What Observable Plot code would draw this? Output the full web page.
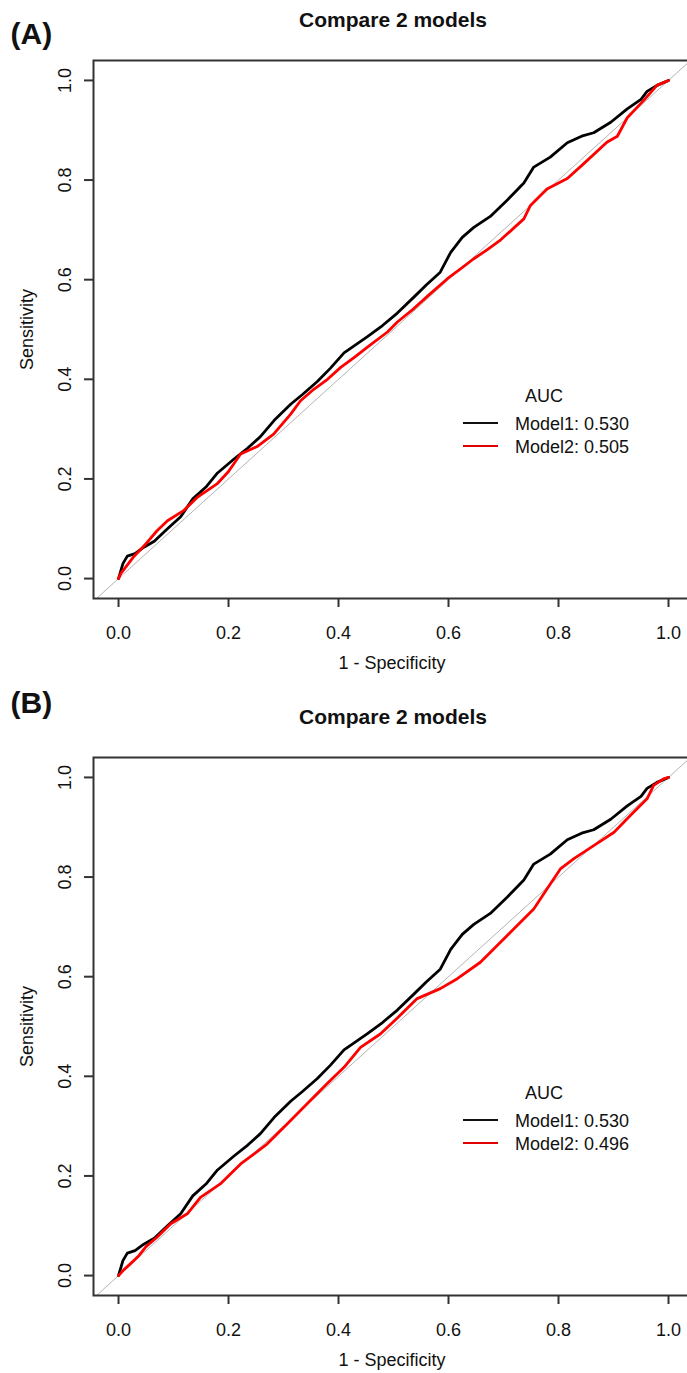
<!DOCTYPE html>
<html><head><meta charset="utf-8">
<script src="https://cdn.jsdelivr.net/npm/d3@7"></script>
<script src="https://cdn.jsdelivr.net/npm/@observablehq/plot@0.6"></script>
<style>
html,body{margin:0;padding:0;background:#fff;overflow:hidden;width:687px;height:1373px}
#root{position:relative;width:687px;height:1373px;font-family:"Liberation Sans",Arial,sans-serif;color:#111}
.panel{position:absolute;left:0;width:687px;}
.abs{position:absolute;white-space:nowrap;line-height:1}
</style></head><body><div id="root"></div>
<script>
// ---- data ----
const panelLabels = ["(A)", "(B)"];
const titleText = "Compare 2 models";
const xLabel = "1 - Specificity";
const yLabel = "Sensitivity";
const legendTitle = "AUC";
const seriesNames = ["Model1", "Model2"];
const aucA = ["0.530", "0.505"];
const aucB = ["0.530", "0.496"];
const xTicks = [0, 0.2, 0.4, 0.6, 0.8, 1.0];
const yTicks = [0, 0.2, 0.4, 0.6, 0.8, 1.0];
const diagonal = [-0.1, 1.1];

// Model1 (same model in both panels)
const model1X = [0,0.008,0.016,0.03,0.046,0.065,0.089,0.113,0.135,0.16,0.18,0.21,0.235,0.258,0.285,0.313,0.335,0.361,0.385,0.41,0.452,0.48,0.507,0.537,0.56,0.585,0.604,0.625,0.646,0.676,0.707,0.737,0.755,0.785,0.816,0.842,0.864,0.895,0.925,0.95,0.961,0.979,1];
const model1Y = [0,0.03,0.045,0.05,0.063,0.075,0.1,0.124,0.16,0.185,0.212,0.24,0.262,0.285,0.32,0.35,0.37,0.395,0.422,0.453,0.485,0.508,0.533,0.565,0.59,0.615,0.655,0.685,0.705,0.727,0.76,0.794,0.826,0.846,0.875,0.888,0.895,0.916,0.943,0.962,0.978,0.99,1];
// Model2, panel A
const model2AX = [0,0.004,0.027,0.05,0.07,0.089,0.119,0.143,0.179,0.2,0.222,0.252,0.282,0.313,0.331,0.355,0.38,0.404,0.43,0.452,0.489,0.507,0.537,0.565,0.598,0.62,0.646,0.67,0.695,0.72,0.737,0.749,0.779,0.816,0.846,0.888,0.907,0.925,0.955,0.979,1];
const model2AY = [0,0.01,0.043,0.07,0.096,0.116,0.137,0.163,0.19,0.215,0.25,0.265,0.29,0.33,0.357,0.38,0.4,0.424,0.445,0.464,0.495,0.515,0.542,0.57,0.602,0.62,0.642,0.66,0.68,0.705,0.722,0.749,0.782,0.803,0.833,0.876,0.888,0.925,0.96,0.99,1];
// Model2, panel B
const model2BX = [0,0.01,0.02,0.037,0.05,0.07,0.095,0.125,0.149,0.185,0.222,0.27,0.307,0.343,0.379,0.41,0.44,0.476,0.507,0.543,0.585,0.616,0.658,0.689,0.719,0.755,0.779,0.804,0.828,0.864,0.901,0.931,0.961,0.973,0.991,1];
const model2BY = [0,0.012,0.022,0.04,0.058,0.077,0.104,0.124,0.157,0.184,0.224,0.264,0.305,0.345,0.385,0.418,0.458,0.485,0.517,0.556,0.576,0.596,0.629,0.663,0.696,0.736,0.776,0.817,0.837,0.863,0.89,0.924,0.957,0.984,0.997,1];

const colors = ["#000000", "#ff0000"];

// ---- layout ----
const W = 687;
const FONT = "Liberation Sans, Arial, sans-serif";
const toPts = (xs, ys) => xs.map((x, i) => ({x, y: ys[i]}));

function makePlot(m2x, m2y, height) {
  const marginTop = 60, frameBottom = 598;
  return Plot.plot({
    width: W, height,
    marginLeft: 93, marginRight: -3, marginTop, marginBottom: height - frameBottom,
    style: {fontFamily: FONT, background: "transparent", color: "#111"},
    x: {domain: [-0.0455, 1.04], axis: null, label: null},
    y: {domain: [-0.04, 1.04], axis: null, label: null},
    marks: [
      Plot.line(diagonal, {x: d => d, y: d => d, stroke: "#b4b4b4", strokeWidth: 1, clip: true}),
      Plot.line(toPts(model1X, model1Y), {x: "x", y: "y", stroke: colors[0], strokeWidth: 2.8}),
      Plot.line(toPts(m2x, m2y), {x: "x", y: "y", stroke: colors[1], strokeWidth: 2.8}),
      Plot.frame({stroke: "#333", strokeWidth: 2}),
      Plot.axisX({ticks: xTicks, tickSize: 9, tickFormat: () => "", label: null, stroke: "#333", strokeWidth: 2}),
      Plot.axisY({ticks: yTicks, tickSize: 9, tickFormat: () => "", label: null, stroke: "#333", strokeWidth: 2}),
      Plot.text(xTicks, {x: d => d, text: d => d.toFixed(1), frameAnchor: "bottom", dy: 40, lineAnchor: "bottom", fontSize: 18, fill: "#111"}),
      Plot.text(yTicks, {y: d => d, text: d => d.toFixed(1), frameAnchor: "left", dx: -23, rotate: -90, lineAnchor: "bottom", textAnchor: "middle", fontSize: 18, fill: "#111"}),
      Plot.text([xLabel], {frameAnchor: "bottom", dy: 70, lineAnchor: "bottom", fontSize: 18, fill: "#111"}),
      Plot.text([yLabel], {frameAnchor: "left", dx: -61, rotate: -90, lineAnchor: "bottom", textAnchor: "middle", fontSize: 18, fill: "#111"})
    ]
  });
}

function addText(parent, txt, left, baseline, fs, opts = {}) {
  const d = document.createElement("div");
  d.className = "abs";
  d.textContent = txt;
  d.style.fontSize = fs + "px";
  d.style.top = (baseline - 0.8465 * fs) + "px";
  d.style.left = left + "px";
  if (opts.bold) d.style.fontWeight = "bold";
  if (opts.center) d.style.transform = "translateX(-50%)";
  parent.appendChild(d);
  return d;
}
function addLine(parent, left, y, width, color) {
  const d = document.createElement("div");
  d.className = "abs";
  d.style.left = left + "px"; d.style.top = (y - 1) + "px";
  d.style.width = width + "px"; d.style.height = "2px";
  d.style.background = color;
  parent.appendChild(d);
}

const root = document.getElementById("root");
const panelDefs = [
  {top: 0, height: 697, m2x: model2AX, m2y: model2AY, auc: aucA, label: panelLabels[0], labelBase: 44},
  {top: 697, height: 676, m2x: model2BX, m2y: model2BY, auc: aucB, label: panelLabels[1], labelBase: 16}
];
for (const p of panelDefs) {
  const div = document.createElement("div");
  div.className = "panel";
  div.style.top = p.top + "px";
  div.style.height = p.height + "px";
  root.appendChild(div);
  div.appendChild(makePlot(p.m2x, p.m2y, p.height));
  addText(div, p.label, 10.5, p.labelBase, 30, {bold: true});
  addText(div, titleText, 393, 27, 21, {bold: true, center: true});
  addText(div, legendTitle, 544, 402, 18, {center: true});
  seriesNames.forEach((name, i) => {
    addLine(div, 463, 422.5 + i * 23, 35, colors[i] === "#ff0000" ? "#e00000" : "#111");
    addText(div, `${name}: ${p.auc[i]}`, 515, 430 + i * 23.5, 18);
  });
}
</script></body></html>
